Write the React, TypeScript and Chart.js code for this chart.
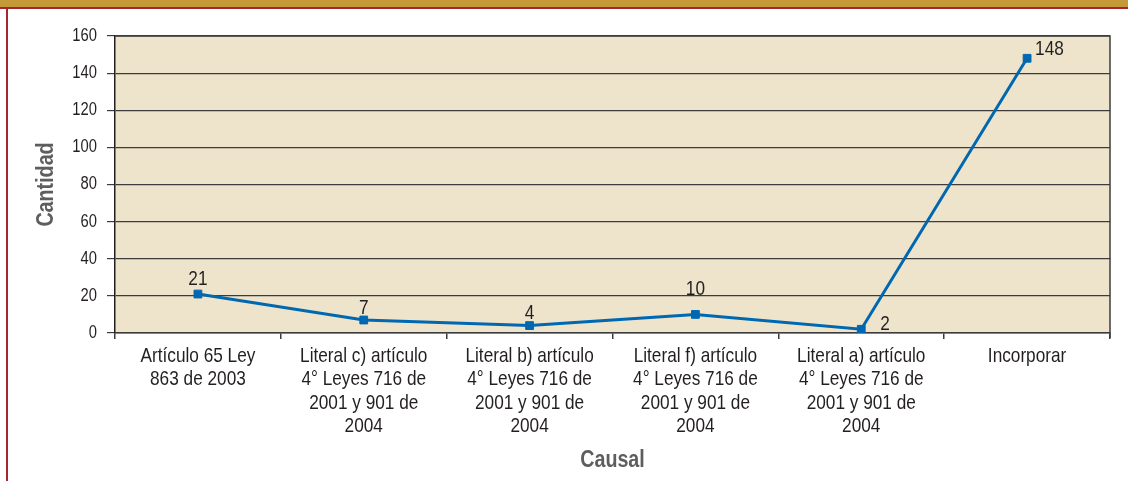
import { useEffect, useRef } from 'react';
import { Chart, registerables } from 'chart.js';

Chart.register(...registerables);

const categories: string[][] = [
  ['Artículo 65 Ley', '863 de 2003'],
  ['Literal c) artículo', '4° Leyes 716 de', '2001 y 901 de', '2004'],
  ['Literal b) artículo', '4° Leyes 716 de', '2001 y 901 de', '2004'],
  ['Literal f) artículo', '4° Leyes 716 de', '2001 y 901 de', '2004'],
  ['Literal a) artículo', '4° Leyes 716 de', '2001 y 901 de', '2004'],
  ['Incorporar'],
];
const cantidad: number[] = [21, 7, 4, 10, 2, 148];
const yMin = 0;
const yMax = 160;
const yStep = 20;
const yTitle = 'Cantidad';
const xTitle = 'Causal';

const FONT = '"Liberation Sans", Arial, Helvetica, sans-serif';
const CONDENSE = 0.82; // emulate a narrow (condensed) sans face
const TEXT = '#231F20';
const LINE = '#0067B1';
const PLOT_BG = '#EEE4CC';
const GRID = '#3C3C3C';

function condenseContext(ctx: any) {
  if (ctx.__condensed) return;
  ctx.__condensed = true;
  const origFill = ctx.fillText.bind(ctx);
  const origMeasure = ctx.measureText.bind(ctx);
  ctx.fillText = (text: string, x: number, y: number, maxWidth?: number) => {
    ctx.save();
    ctx.translate(x, y);
    ctx.scale(CONDENSE, 1);
    if (maxWidth !== undefined && maxWidth !== null) origFill(text, 0, 0, maxWidth / CONDENSE);
    else origFill(text, 0, 0);
    ctx.restore();
  };
  ctx.measureText = (text: string) => {
    const m = origMeasure(text);
    return {
      width: m.width * CONDENSE,
      actualBoundingBoxAscent: m.actualBoundingBoxAscent,
      actualBoundingBoxDescent: m.actualBoundingBoxDescent,
      actualBoundingBoxLeft: m.actualBoundingBoxLeft * CONDENSE,
      actualBoundingBoxRight: m.actualBoundingBoxRight * CONDENSE,
      fontBoundingBoxAscent: m.fontBoundingBoxAscent,
      fontBoundingBoxDescent: m.fontBoundingBoxDescent,
    };
  };
}

const plotBg = {
  id: 'plotBg',
  beforeDraw(chart: any) {
    const { ctx, chartArea: a } = chart;
    ctx.save();
    ctx.fillStyle = PLOT_BG;
    ctx.fillRect(a.left, a.top, a.right - a.left, a.bottom - a.top);
    ctx.restore();
  },
  afterDraw(chart: any) {
    const { ctx, chartArea: a } = chart;
    ctx.save();
    ctx.strokeStyle = GRID;
    ctx.lineWidth = 1.5;
    ctx.beginPath();
    ctx.moveTo(a.left, a.top);
    ctx.lineTo(a.right, a.top);
    ctx.lineTo(a.right, a.bottom + 5);
    ctx.stroke();
    ctx.restore();
  },
};

// label placement per point (style only)
const placements = [
  { side: 'top', gap: 9 },
  { side: 'top', gap: 6 },
  { side: 'top', gap: 7 },
  { side: 'top', gap: 19 },
  { side: 'right', gap: 19 },
  { side: 'topRight', gap: 8 },
];

const dataLabels = {
  id: 'dataLabels',
  afterDatasetsDraw(chart: any) {
    const { ctx } = chart;
    const meta = chart.getDatasetMeta(0);
    const values = chart.data.datasets[0].data as number[];
    ctx.save();
    ctx.fillStyle = TEXT;
    ctx.font = `21px ${FONT}`;
    ctx.textBaseline = 'alphabetic';
    meta.data.forEach((pt: any, i: number) => {
      const p = placements[i];
      const txt = String(values[i]);
      if (p.side === 'top') {
        ctx.textAlign = 'center';
        ctx.fillText(txt, pt.x, pt.y - p.gap);
      } else if (p.side === 'right') {
        ctx.textAlign = 'left';
        ctx.fillText(txt, pt.x + p.gap, pt.y + 1);
      } else {
        ctx.textAlign = 'left';
        ctx.fillText(txt, pt.x + p.gap, pt.y - 3);
      }
    });
    ctx.restore();
  },
};

function ChartView() {
  const ref = useRef<HTMLCanvasElement | null>(null);
  useEffect(() => {
    if (!ref.current) return;
    const ctx2d = ref.current.getContext('2d');
    condenseContext(ctx2d);
    const chart = new Chart(ref.current, {
      type: 'line',
      data: {
        labels: categories,
        datasets: [
          {
            data: cantidad,
            borderColor: LINE,
            backgroundColor: LINE,
            borderWidth: 3,
            tension: 0,
            pointStyle: 'rect',
            pointRadius: 5.5,
            pointBorderWidth: 1,
            pointBorderColor: LINE,
            pointBackgroundColor: LINE,
            fill: false,
          },
        ],
      },
      options: {
        animation: false,
        responsive: false,
        maintainAspectRatio: false,
        layout: { padding: { left: 0, right: 18, top: 36, bottom: 0 } },
        plugins: {
          legend: { display: false },
          tooltip: { enabled: false },
        },
        scales: {
          x: {
            type: 'category',
            offset: true,
            grid: {
              offset: true,
              drawOnChartArea: false,
              drawTicks: true,
              tickLength: 6,
              color: GRID,
              lineWidth: 1.5,
            },
            border: { display: true, color: GRID, width: 1.5 },
            ticks: {
              color: TEXT,
              font: { family: FONT, size: 21, lineHeight: 1.1 },
              padding: 6,
              maxRotation: 0,
              minRotation: 0,
              autoSkip: false,
            },
            title: {
              display: true,
              text: xTitle,
              color: '#5E5E5E',
              font: { family: FONT, size: 24, weight: 'bold', lineHeight: 1.2 },
              padding: { top: 0, bottom: 6 },
            },
            afterFit(scale: any) {
              scale.height = 148;
            },
          },
          y: {
            min: yMin,
            max: yMax,
            ticks: {
              stepSize: yStep,
              color: TEXT,
              font: { family: FONT, size: 18 },
              padding: 10,
            },
            grid: {
              color: GRID,
              lineWidth: 1.2,
              tickLength: 8,
              drawTicks: true,
            },
            border: { display: true, color: '#231F20', width: 1.5 },
            title: {
              display: true,
              text: yTitle,
              color: '#5E5E5E',
              font: { family: FONT, size: 24, weight: 'bold', lineHeight: 1.2 },
              padding: { top: 32, bottom: 0 },
            },
            afterFit(scale: any) {
              scale.width = 115;
            },
          },
        },
      },
      plugins: [plotBg, dataLabels],
    });
    return () => chart.destroy();
  }, []);
  return (
    <canvas
      ref={ref}
      width={1128}
      height={481}
      style={{ position: 'absolute', left: 0, top: 0, width: 1128, height: 481 }}
    />
  );
}

export default function App() {
  return (
    <div
      style={{
        position: 'absolute',
        left: 0,
        top: 0,
        width: 1128,
        height: 481,
        background: '#FFFFFF',
        overflow: 'hidden',
      }}
    >
      <div style={{ position: 'absolute', left: 0, top: 0, width: 1128, height: 7, background: '#C4993A' }} />
      <div style={{ position: 'absolute', left: 0, top: 7, width: 1128, height: 2, background: '#A4262E' }} />
      <div style={{ position: 'absolute', left: 6, top: 7, width: 2, height: 474, background: '#A4262E' }} />
      <ChartView />
    </div>
  );
}
